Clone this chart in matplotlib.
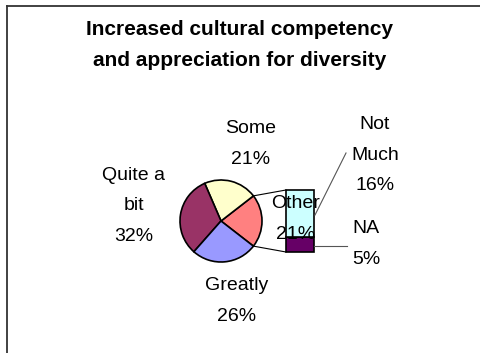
import matplotlib.pyplot as plt
import numpy as np

plt.rcParams["font.family"] = ["Liberation Sans", "DejaVu Sans"]

title = "Increased cultural competency\nand appreciation for diversity"

# pie part, listed counter-clockwise starting with the split-off slice
pie_labels = ["Other", "Some", "Quite a\nbit", "Greatly"]
pie_values = [21, 21, 32, 26]
pie_colors = ["#FF8080", "#FFFFCC", "#993366", "#9999FF"]

# bar that breaks down "Other", bottom to top
bar_labels = ["NA", "Not\nMuch"]
bar_values = [5, 16]
bar_colors = ["#660066", "#CCFFFF"]

W, H = 480, 353


def px(x, y):
    # pixel position measured from the top-left -> data coords
    return x, H - y


fig = plt.figure(figsize=(4.8, 3.53), dpi=100)
ax = fig.add_axes([0, 0, 1, 1])

# pie
cx, cy = px(221, 221)
r = 41
start = -pie_values[0] / 2 * 3.6
ax.pie(
    pie_values,
    colors=pie_colors,
    startangle=start,
    counterclock=True,
    center=(cx, cy),
    radius=r,
    wedgeprops=dict(edgecolor="black", linewidth=1.2),
)

# stacked bar for "Other"
bar_x, bar_w = 300, 28
bar_scale = 62 / sum(bar_values)
bottom = H - 252
bar_bottom = bottom
for v, c in zip(bar_values, bar_colors):
    ax.bar(bar_x, v * bar_scale, width=bar_w, bottom=bottom, color=c,
           edgecolor="black", linewidth=1.2, zorder=2)
    bottom += v * bar_scale
bar_top = bottom

# connector lines pie -> bar
theta = np.deg2rad(pie_values[0] / 2 * 3.6)
ex = cx + r * np.cos(theta)
ax.plot([ex, bar_x - bar_w / 2], [cy + r * np.sin(theta), bar_top],
        color="black", lw=0.8, zorder=1)
ax.plot([ex, bar_x - bar_w / 2], [cy - r * np.sin(theta), bar_bottom],
        color="black", lw=0.8, zorder=1)

# leader lines for the bar labels
ax.plot(*zip(px(346, 153), px(315, 215)), color="#555555", lw=0.8)
ax.plot(*zip(px(314, 246), px(347, 246)), color="#555555", lw=0.8)

# labels
lab = dict(fontsize=14, ha="center", va="center", linespacing=2.05, zorder=5)
pie_pos = [px(296, 219), px(251, 144), px(134, 206), px(237, 301)]
for name, v, pos in zip(pie_labels, pie_values, pie_pos):
    ax.text(*pos, f"{name}\n{v}%", **lab)
bar_pos = [px(366, 244), px(375, 155)]
for name, v, pos in zip(bar_labels, bar_values, bar_pos):
    ax.text(*pos, f"{name}\n{v}%", **lab)

ax.text(*px(240, 45), title, fontsize=15, fontweight="bold",
        ha="center", va="center", linespacing=1.85)

# chart frame (right and bottom edges fall outside the image)
ax.plot([7, 7], [0, H - 6], color="#333333", lw=1.3)
ax.plot([7, W], [H - 6, H - 6], color="#333333", lw=1.3)

ax.set_xlim(0, W)
ax.set_ylim(0, H)
ax.set_aspect("equal")
ax.axis("off")

fig.savefig("out.png", dpi=100)
